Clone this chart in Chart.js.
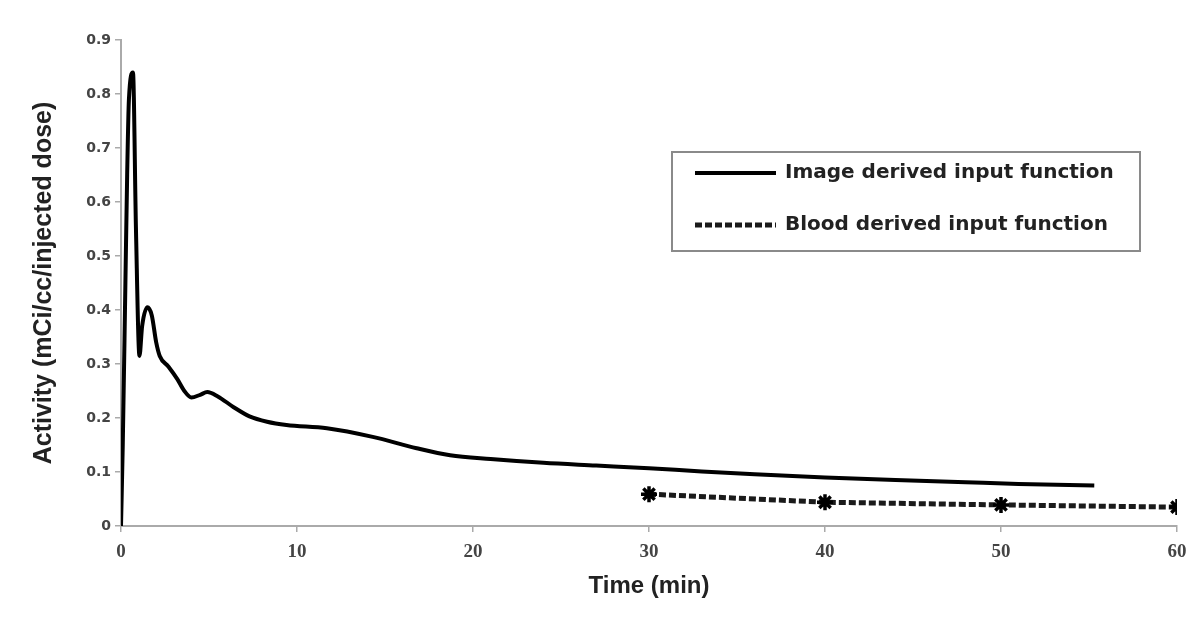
<!DOCTYPE html>
<html>
<head>
<meta charset="utf-8">
<script src="https://cdn.jsdelivr.net/npm/chart.js@4/dist/chart.umd.min.js"></script>
<style>
html,body{margin:0;padding:0;background:#fff;}
#wrap{width:1200px;height:627px;position:relative;}
</style>
</head>
<body>
<div id="wrap"><canvas id="c" width="1200" height="627"></canvas></div>
<script>
// ---- data ----
const imageTimes  = [0, 0.1, 0.25, 0.35, 0.45, 0.68, 0.85, 1.05, 1.2, 1.5, 1.75, 2.0, 2.2, 2.7, 3.2, 3.6, 4.0, 4.5, 4.9, 5.5, 6.4, 7.3, 8.3, 9.4, 11.7, 14.3, 16.8, 18.7, 21, 24, 27, 30, 33, 36, 40, 44, 48, 51, 55.3];
const imageValues = [0, 0.15, 0.45, 0.65, 0.79, 0.84, 0.55, 0.315, 0.37, 0.405, 0.39, 0.34, 0.315, 0.295, 0.272, 0.25, 0.238, 0.243, 0.248, 0.240, 0.220, 0.203, 0.193, 0.187, 0.181, 0.165, 0.144, 0.131, 0.124, 0.117, 0.112, 0.107, 0.101, 0.096, 0.090, 0.085, 0.081, 0.078, 0.075];
const bloodTimes  = [30, 40, 50, 60];
const bloodValues = [0.059, 0.044, 0.039, 0.035];
const xTickValues = [0, 10, 20, 30, 40, 50, 60];
const yTickLabels = ['0', '0.1', '0.2', '0.3', '0.4', '0.5', '0.6', '0.7', '0.8', '0.9'];
const seriesLabels = ['Image derived input function', 'Blood derived input function'];
const xTitle = 'Time (min)';
const yTitle = 'Activity (mCi/cc/injected dose)';

const toPts = (xs, ys) => xs.map((x, i) => ({x: x, y: ys[i]}));

const legendPlugin = {
  id: 'boxLegend',
  afterDraw(chart) {
    const ctx = chart.ctx;
    ctx.save();
    const bx = 672, by = 152, bw = 468, bh = 99;
    ctx.strokeStyle = '#8a8a8a';
    ctx.lineWidth = 2;
    ctx.strokeRect(bx, by, bw, bh);
    const rows = [173, 225];
    chart.data.datasets.forEach((ds, i) => {
      const y = rows[i];
      ctx.beginPath();
      ctx.strokeStyle = ds.borderColor;
      ctx.lineWidth = ds.borderWidth;
      ctx.setLineDash(ds.borderDash || []);
      ctx.moveTo(695, y);
      ctx.lineTo(776, y);
      ctx.stroke();
      ctx.setLineDash([]);
      ctx.fillStyle = '#222';
      ctx.font = 'bold 20px "DejaVu Sans"';
      ctx.textBaseline = 'middle';
      ctx.textAlign = 'left';
      ctx.fillText(ds.label, 785, y);
    });
    ctx.restore();
  }
};

new Chart(document.getElementById('c'), {
  type: 'scatter',
  data: {
    datasets: [
      {
        label: seriesLabels[0],
        data: toPts(imageTimes, imageValues),
        showLine: true,
        borderColor: '#000',
        borderWidth: 4,
        pointRadius: 0,
        cubicInterpolationMode: 'monotone',
        fill: false
      },
      {
        label: seriesLabels[1],
        data: toPts(bloodTimes, bloodValues),
        showLine: true,
        borderColor: '#1a1a1a',
        borderWidth: 5,
        borderDash: [7, 3],
        pointStyle: 'star',
        pointRadius: 8,
        pointBorderWidth: 3.5,
        pointBorderColor: '#000',
        pointBackgroundColor: '#000',
        tension: 0,
        fill: false
      }
    ]
  },
  options: {
    responsive: false,
    animation: false,
    layout: {padding: {left: 0, right: 23, top: 40, bottom: 0}},
    plugins: {legend: {display: false}, tooltip: {enabled: false}},
    scales: {
      x: {
        type: 'linear', min: 0, max: 60,
        afterBuildTicks: s => { s.ticks = xTickValues.map(v => ({value: v})); },
        afterFit: s => { s.height = 101; },
        ticks: {
          font: {family: '"Liberation Serif"', size: 19, weight: 'bold'},
          color: '#444', padding: 9, maxRotation: 0
        },
        grid: {display: true, drawOnChartArea: false, drawTicks: true, tickLength: 6, color: '#aaa', lineWidth: 1.5},
        border: {display: true, color: '#aaa', width: 2},
        title: {
          display: true, text: xTitle,
          font: {family: '"Liberation Sans"', size: 24, weight: 'bold'},
          color: '#222', padding: {top: 0, bottom: 26}
        }
      },
      y: {
        type: 'linear', min: 0, max: 0.9,
        afterBuildTicks: s => { s.ticks = yTickLabels.map(v => ({value: parseFloat(v)})); },
        afterFit: s => { s.width = 121; },
        ticks: {
          font: {family: '"DejaVu Sans"', size: 14, weight: 'bold'},
          color: '#444', padding: 4,
          callback: (v, i) => yTickLabels[i]
        },
        grid: {display: true, drawOnChartArea: false, drawTicks: true, tickLength: 6, color: '#aaa', lineWidth: 1.5},
        border: {display: true, color: '#aaa', width: 2},
        title: {
          display: true, text: yTitle,
          font: {family: '"Liberation Sans"', size: 25, weight: 'bold'},
          color: '#222', padding: {top: 29, bottom: 0}
        }
      }
    }
  },
  plugins: [legendPlugin]
});
</script>
</body>
</html>
